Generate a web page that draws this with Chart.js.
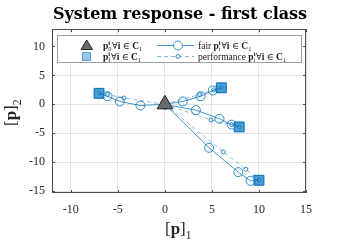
<!DOCTYPE html>
<html>
<head>
<meta charset="utf-8">
<script src="https://cdn.jsdelivr.net/npm/chart.js@4"></script>
<style>
  html, body { margin: 0; padding: 0; background: #fff; }
  #wrap { width: 341px; height: 240px; }
</style>
</head>
<body>
<div id="wrap"><canvas id="chart" width="341" height="240"></canvas></div>
<script>
// axis ticks
const xTicks = [-10, -5, 0, 5, 10, 15];
const yTicks = [-15, -10, -5, 0, 5, 10];

// initial position (triangle)
const startX = [0];
const startY = [0];

// final positions (squares)
const finalX = [-7.0, 6.0, 7.9, 10.0];
const finalY = [1.9, 2.85, -3.9, -13.1];

// fair trajectories (big circles, solid line)
const fairAX = [0, -2.6, -4.8, -6.1, -7.0];
const fairAY = [0, -0.2, 0.5, 1.4, 1.9];
const fairBX = [0, 1.9, 3.8, 5.1, 6.0];
const fairBY = [0, 0.5, 1.4, 2.4, 2.85];
const fairCX = [0, 3.3, 5.8, 7.1, 7.9];
const fairCY = [0, -1.0, -2.5, -3.5, -3.9];
const fairDX = [0, 4.7, 7.8, 9.1, 10.0];
const fairDY = [0, -7.5, -11.7, -13.2, -13.1];

// performance trajectories (small circles, dashed line)
const perfAX = [0, -4.35, -6.1, -7.0];
const perfAY = [0, 1.1, 1.7, 1.9];
const perfBX = [0, 3.7, 5.2, 6.0];
const perfBY = [0, 1.7, 2.5, 2.85];
const perfCX = [0, 4.9, 7.1, 7.9];
const perfCY = [0, -2.7, -3.5, -3.9];
const perfDX = [0, 6.2, 8.6, 10.0];
const perfDY = [0, -8.2, -11.2, -13.1];

const BLUE = '#0072BD';
const SERIF = "'Liberation Serif', 'DejaVu Serif', serif";
const AXIS = '#4d4d4d';

function pts(xs, ys) { return xs.map((x, i) => ({ x: x, y: ys[i] })); }

function fairSet(xs, ys) {
  return {
    data: pts(xs, ys), showLine: true,
    borderColor: 'rgba(0,114,189,0.75)', borderWidth: 1,
    pointStyle: 'circle', pointRadius: 4.5, pointBorderWidth: 1,
    pointBorderColor: 'rgba(0,114,189,0.8)', pointBackgroundColor: 'rgba(0,0,0,0)'
  };
}
function perfSet(xs, ys) {
  return {
    data: pts(xs, ys), showLine: true, borderDash: [4, 3],
    borderColor: 'rgba(0,114,189,0.45)', borderWidth: 1,
    pointStyle: 'circle', pointRadius: 2, pointBorderWidth: 1,
    pointBorderColor: 'rgba(0,114,189,0.8)', pointBackgroundColor: 'rgba(0,0,0,0)'
  };
}

// small rich text helper: [text, flag] flag: 'b' bold, '_' sub, 's' stacked "sub|sup"
function rich(ctx, x, y, size, parts) {
  let cx = x;
  const small = size * 0.68;
  for (const [t, f] of parts) {
    if (f === 's') {
      const [sub, sup] = t.split('|');
      ctx.font = small + 'px ' + SERIF;
      const w1 = ctx.measureText(sub).width;
      ctx.font = 'bold ' + small + 'px ' + SERIF;
      const w2 = ctx.measureText(sup).width;
      ctx.font = small + 'px ' + SERIF;
      ctx.fillText(sub, cx, y + size * 0.28);
      ctx.font = 'bold ' + small + 'px ' + SERIF;
      ctx.fillText(sup, cx, y - size * 0.42);
      cx += Math.max(w1, w2) + 0.5;
    } else if (f === '_') {
      ctx.font = small + 'px ' + SERIF;
      ctx.fillText(t, cx, y + size * 0.28);
      cx += ctx.measureText(t).width;
    } else {
      ctx.font = (f === 'b' ? 'bold ' : '') + size + 'px ' + SERIF;
      ctx.fillText(t, cx, y);
      cx += ctx.measureText(t).width;
    }
  }
  return cx - x;
}

const decor = {
  id: 'decor',
  afterDraw(chart) {
    const ctx = chart.ctx;
    const a = chart.chartArea;
    const xs = chart.scales.x, ys = chart.scales.y;
    ctx.save();
    // axes box and inward ticks
    ctx.strokeStyle = AXIS;
    ctx.lineWidth = 1;
    ctx.strokeRect(a.left + 0.5, a.top + 0.5, a.right - a.left - 1, a.bottom - a.top - 1);
    ctx.beginPath();
    xTicks.forEach(v => {
      const px = Math.round(xs.getPixelForValue(v)) + 0.5;
      ctx.moveTo(px, a.bottom); ctx.lineTo(px, a.bottom - 3);
      ctx.moveTo(px, a.top); ctx.lineTo(px, a.top + 3);
    });
    yTicks.forEach(v => {
      const py = Math.round(ys.getPixelForValue(v)) + 0.5;
      ctx.moveTo(a.left, py); ctx.lineTo(a.left + 3, py);
      ctx.moveTo(a.right, py); ctx.lineTo(a.right - 3, py);
    });
    ctx.stroke();

    // title
    ctx.fillStyle = '#000';
    ctx.textBaseline = 'alphabetic';
    ctx.textAlign = 'center';
    ctx.font = "bold 16px 'DejaVu Serif', serif";
    ctx.fillText('System response - first class', (a.left + a.right) / 2 + 1, 19);
    ctx.textAlign = 'left';

    // axis labels
    ctx.fillStyle = '#262626';
    rich(ctx, 165, 234, 17, [['[', ''], ['p', 'b'], [']', ''], ['1', '_']]);
    ctx.save();
    ctx.translate(16, 126);
    ctx.rotate(-Math.PI / 2);
    rich(ctx, 0, 0, 17, [['[', ''], ['p', 'b'], [']', ''], ['2', '_']]);
    ctx.restore();

    // legend
    ctx.fillStyle = '#fff';
    ctx.fillRect(57, 35, 245, 28);
    ctx.strokeStyle = '#a0a0a0';
    ctx.strokeRect(57.5, 35.5, 244, 27);
    const r1 = 45.5, r2 = 56.5;
    // triangle
    ctx.beginPath();
    ctx.moveTo(86.7, r1 - 5.5); ctx.lineTo(92.5, r1 + 4); ctx.lineTo(81, r1 + 4); ctx.closePath();
    ctx.fillStyle = '#6b6b6b'; ctx.fill();
    ctx.strokeStyle = '#222'; ctx.stroke();
    // square
    ctx.fillStyle = 'rgba(0,114,189,0.4)';
    ctx.fillRect(82.5, r2 - 4, 8, 8);
    ctx.strokeStyle = 'rgba(0,114,189,0.6)';
    ctx.strokeRect(82.5, r2 - 4, 8, 8);
    // fair line
    ctx.strokeStyle = 'rgba(0,114,189,0.75)';
    ctx.beginPath(); ctx.moveTo(157, r1); ctx.lineTo(194, r1); ctx.stroke();
    ctx.beginPath(); ctx.arc(178, r1, 4.5, 0, Math.PI * 2);
    ctx.fillStyle = '#fff'; ctx.fill(); ctx.stroke();
    // performance line
    ctx.strokeStyle = 'rgba(0,114,189,0.5)';
    ctx.setLineDash([4, 3]);
    ctx.beginPath(); ctx.moveTo(157, r2); ctx.lineTo(194, r2); ctx.stroke();
    ctx.setLineDash([]);
    ctx.strokeStyle = 'rgba(0,114,189,0.8)';
    ctx.beginPath(); ctx.arc(178, r2, 2, 0, Math.PI * 2);
    ctx.fillStyle = '#fff'; ctx.fill(); ctx.stroke();

    ctx.fillStyle = '#1a1a1a';
    const tail = [['\u2200', ''], ['i', 'b'], [' \u2208 ', ''], ['C', 'b'], ['1', '_']];
    rich(ctx, 103, r1 + 3, 9.5, [['p', 'b'], ['0|i', 's']].concat(tail));
    rich(ctx, 103, r2 + 3, 9.5, [['p', 'b'], ['f|i', 's']].concat(tail));
    rich(ctx, 198, r1 + 3, 9.5, [['fair ', ''], ['p', 'b'], ['t|i', 's']].concat(tail));
    rich(ctx, 198, r2 + 3, 9.5, [['performance ', ''], ['p', 'b'], ['t|i', 's']].concat(tail));
    ctx.restore();
  }
};

new Chart(document.getElementById('chart'), {
  type: 'scatter',
  data: {
    datasets: [
      {
        data: pts(startX, startY), pointStyle: 'triangle', pointRadius: 9,
        pointBackgroundColor: '#6b6b6b', pointBorderColor: '#222', pointBorderWidth: 1
      },
      {
        data: pts(finalX, finalY), pointStyle: 'rect', pointRadius: 7,
        pointBackgroundColor: 'rgba(0,114,189,0.65)', pointBorderColor: BLUE, pointBorderWidth: 1
      },
      {
        data: pts(finalX, finalY), pointStyle: 'circle', pointRadius: 4.5,
        pointBackgroundColor: 'rgba(0,0,0,0)', pointBorderColor: 'rgba(255,255,255,0.7)', pointBorderWidth: 1
      },
      fairSet(fairAX, fairAY), fairSet(fairBX, fairBY), fairSet(fairCX, fairCY), fairSet(fairDX, fairDY),
      perfSet(perfAX, perfAY), perfSet(perfBX, perfBY), perfSet(perfCX, perfCY), perfSet(perfDX, perfDY)
    ]
  },
  options: {
    responsive: false,
    animation: false,
    layout: { padding: { top: 29, right: 35, left: 0, bottom: 0 } },
    plugins: { legend: { display: false }, tooltip: { enabled: false }, title: { display: false } },
    scales: {
      x: {
        min: -12, max: 15,
        afterBuildTicks: s => { s.ticks = xTicks.map(v => ({ value: v })); },
        afterFit: s => { s.height = 47; },
        grid: { color: '#e3e3e3', drawTicks: false, tickLength: 0 },
        border: { display: false },
        ticks: { padding: 10, color: '#262626', font: { family: SERIF, size: 12 }, maxRotation: 0 }
      },
      y: {
        min: -15.3, max: 13,
        afterBuildTicks: s => { s.ticks = yTicks.map(v => ({ value: v })); },
        afterFit: s => { s.width = 52; },
        grid: { color: '#e3e3e3', drawTicks: false, tickLength: 0 },
        border: { display: false },
        ticks: { padding: 7, color: '#262626', font: { family: SERIF, size: 12 } }
      }
    }
  },
  plugins: [decor]
});
</script>
</body>
</html>
